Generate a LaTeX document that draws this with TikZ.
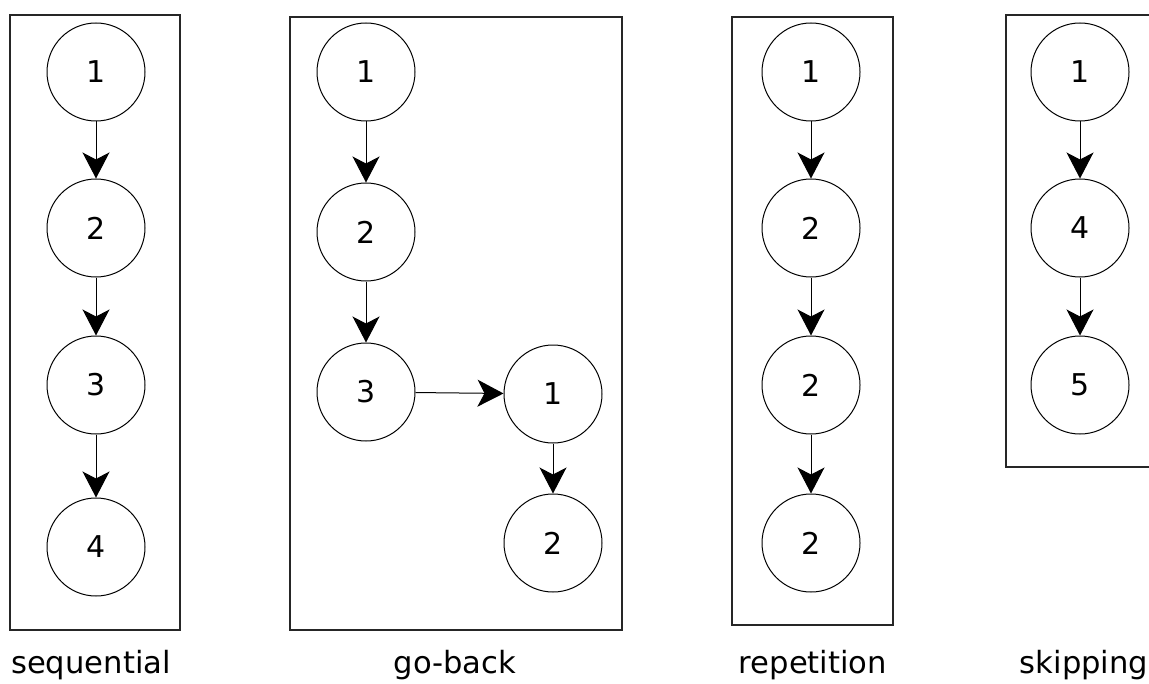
\documentclass[tikz,border=0pt]{standalone}
\usepackage{fontspec}
\setmainfont{DejaVu Sans}
\usetikzlibrary{arrows.meta}
\tikzset{
    state/.style = {circle, draw=black, line width=0.5pt, minimum size=49pt, inner sep=0pt, font=\fontsize{15}{17}\selectfont},
    frame/.style = {draw=black!85, line width=0.6pt},
    flow/.style = {-{Stealth[length=13pt, width=13.5pt, inset=3.5pt]}, line width=0.5pt},
    caption/.style = {anchor=base, font=\fontsize{15.3}{18}\selectfont}
}

\begin{document}
\begin{tikzpicture}[x=0.5pt, y=-0.5pt]
\useasboundingbox (0,0) rectangle (1149,684);

% sequential
\draw[frame] (10,15) rectangle (180,630);
\node[state] (s1) at (96,72)  {1};
\node[state] (s2) at (96,228) {2};
\node[state] (s3) at (96,385) {3};
\node[state] (s4) at (96,547) {4};
\draw[flow] (s1) -- (s2);
\draw[flow] (s2) -- (s3);
\draw[flow] (s3) -- (s4);
\node[caption] (lseq) at (91,673) {sequential};

% go-back
\draw[frame] (290,17) rectangle (622,630);
\node[state] (g1) at (366,72)  {1};
\node[state] (g2) at (366,232) {2};
\node[state] (g3) at (366,392) {3};
\node[state] (g4) at (553,394) {1};
\node[state] (g5) at (553,543) {2};
\draw[flow] (g1) -- (g2);
\draw[flow] (g2) -- (g3);
\draw[flow] (g3) -- (g4);
\draw[flow] (g4) -- (g5);
\node[caption] (lgob) at (455,673) {go-back};

% repetition
\draw[frame] (732,17) rectangle (893,625);
\node[state] (r1) at (811,72)  {1};
\node[state] (r2) at (811,228) {2};
\node[state] (r3) at (811,385) {2};
\node[state] (r4) at (811,543) {2};
\draw[flow] (r1) -- (r2);
\draw[flow] (r2) -- (r3);
\draw[flow] (r3) -- (r4);
\node[caption] (lrep) at (813,673) {repetition};

% skipping
\draw[frame] (1006,15) rectangle (1160,467);
\node[state] (k1) at (1080,72)  {1};
\node[state] (k2) at (1080,228) {4};
\node[state] (k3) at (1080,385) {5};
\draw[flow] (k1) -- (k2);
\draw[flow] (k2) -- (k3);
\node[caption] (lskp) at (1084,673) {skipping};
\end{tikzpicture}
\end{document}
